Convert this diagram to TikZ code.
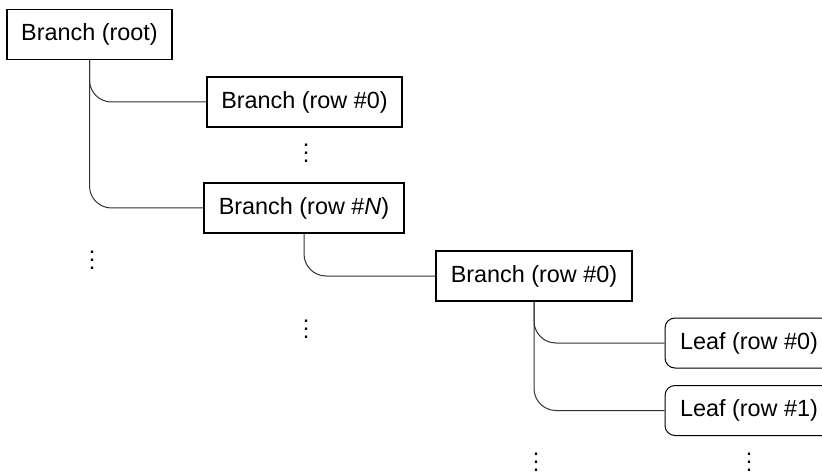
\documentclass[tikz,border=0pt]{standalone}
\usepackage{fontspec}
\setmainfont{Liberation Sans}
\newcommand{\vdotsx}{\vbox{\baselineskip=8pt\lineskiplimit=-20pt\hbox{.}\hbox{.}\hbox{.}}}
\begin{document}
\begin{tikzpicture}[x=1pt,y=-1pt,
  font=\fontsize{23.4}{27}\selectfont,
  branchbox/.style={draw=black, line width=1.4pt, minimum height=50pt, inner sep=0pt},
  leafbox/.style={draw=black, line width=1pt, rounded corners=10pt, minimum width=168pt, minimum height=50pt, inner sep=0pt},
  conn/.style={draw=black!80, line width=1pt, rounded corners=22pt},
  dotsnode/.style={inner sep=0pt}]
\clip (0,0) rectangle (822,473);
\node[branchbox, minimum width=165pt] (root) at (89.5,34.5) {Branch (root)};
\node[branchbox, minimum width=195pt] (b0) at (304.5,102) {Branch (row \#0)};
\node[branchbox, minimum width=200pt] (bN) at (304,208) {Branch (row \#\textit{N})};
\node[branchbox, minimum width=196pt] (b2) at (534,276) {Branch (row \#0)};
\node[leafbox] (l0) at (749,343) {Leaf (row \#0)};
\node[leafbox] (l1) at (749,410.5) {Leaf (row \#1)};
\draw[conn] (root.south) |- (b0.west);
\draw[conn] (root.south) |- (bN.west);
\draw[conn] (bN.south) |- (b2.west);
\draw[conn] (b2.south) |- (l0.west);
\draw[conn] (b2.south) |- (l1.west);
\node[dotsnode] (d1) at (306,153.5) {\vdotsx};
\node[dotsnode] (d2) at (92,260.5) {\vdotsx};
\node[dotsnode] (d3) at (306,329) {\vdotsx};
\node[dotsnode] (d4) at (536,462) {\vdotsx};
\node[dotsnode] (d5) at (749,462) {\vdotsx};
\end{tikzpicture}
\end{document}
